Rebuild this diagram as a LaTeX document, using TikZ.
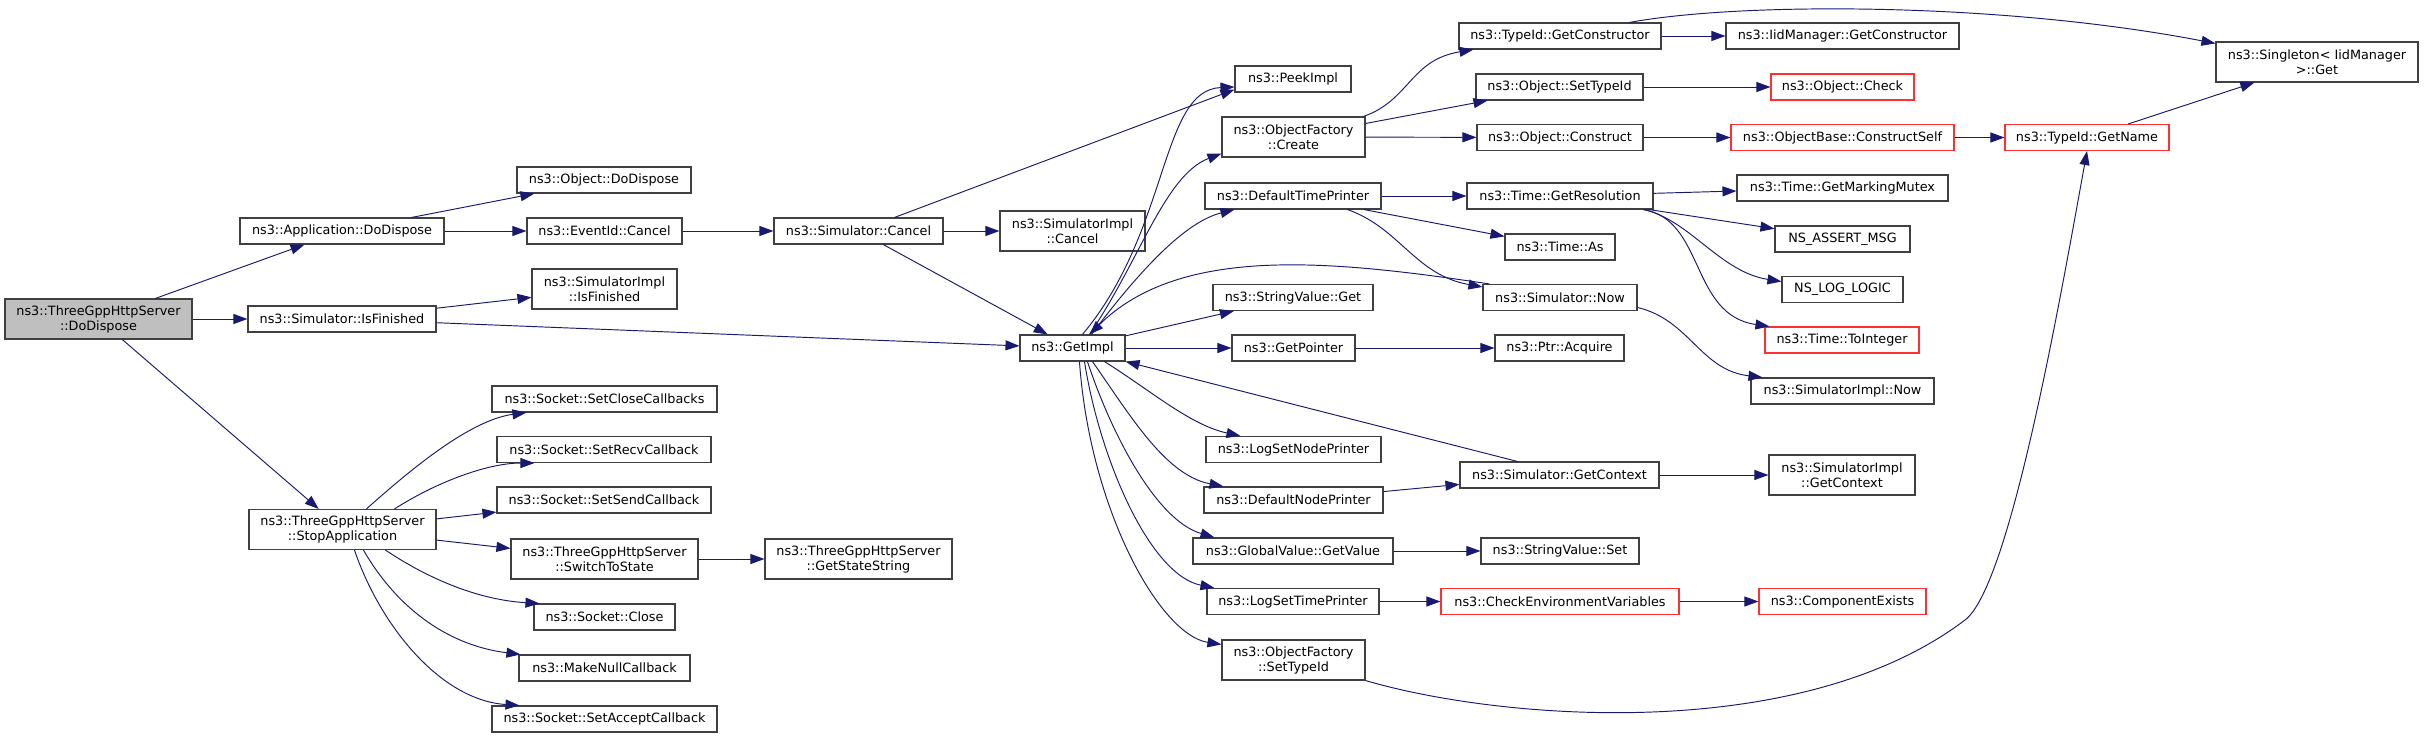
\documentclass[tikz,border=0pt]{standalone}
\usepackage{fontspec}
\setmainfont{DejaVu Sans}
\usetikzlibrary{arrows.meta}
\definecolor{edgeblue}{HTML}{191970}
\definecolor{boxgrey}{HTML}{404040}
\definecolor{rootfill}{HTML}{BFBFBF}
\definecolor{undocred}{HTML}{FF3030}

\begin{document}
\begin{tikzpicture}[x=1pt, y=1pt,
  fn/.style={draw=boxgrey, line width=1.1pt, fill=white, inner sep=0pt,
    minimum height=26, align=center, font=\fontsize{12.8}{15}\selectfont},
  tall/.style={minimum height=40},
  rootfn/.style={fn, tall, fill=rootfill},
  undoc/.style={draw=undocred},
  call/.style={draw=edgeblue, line width=0.95pt, -{Triangle[length=14pt, width=10pt]}}]
  \useasboundingbox (0,0) rectangle (2428,-738);

  % first levels
  \node[rootfn, minimum width=187] (root) at (98.5,-319) {ns3::ThreeGppHttpServer\\::DoDispose};
  \node[fn, minimum width=204] (appdisp) at (342,-231) {ns3::Application::DoDispose};
  \node[fn, minimum width=188] (simfin) at (342,-319) {ns3::Simulator::IsFinished};
  \node[fn, tall, minimum width=187] (stopapp) at (342.5,-529.5) {ns3::ThreeGppHttpServer\\::StopApplication};
  \node[fn, minimum width=174] (objdisp) at (604,-180) {ns3::Object::DoDispose};
  \node[fn, minimum width=155] (evcancel) at (604.5,-231) {ns3::EventId::Cancel};
  \node[fn, tall, minimum width=145] (simimplfin) at (604.5,-289) {ns3::SimulatorImpl\\::IsFinished};
  \node[fn, minimum width=225] (setclose) at (604.5,-399) {ns3::Socket::SetCloseCallbacks};
  \node[fn, minimum width=214] (setrecv) at (604,-449.5) {ns3::Socket::SetRecvCallback};
  \node[fn, minimum width=214] (setsend) at (604,-500) {ns3::Socket::SetSendCallback};
  \node[fn, tall, minimum width=187] (switchstate) at (604.5,-559) {ns3::ThreeGppHttpServer\\::SwitchToState};
  \node[fn, minimum width=141] (sockclose) at (604.5,-617) {ns3::Socket::Close};
  \node[fn, minimum width=171] (makenull) at (604.5,-668) {ns3::MakeNullCallback};
  \node[fn, minimum width=225] (setaccept) at (604.5,-719) {ns3::Socket::SetAcceptCallback};
  \node[fn, tall, minimum width=187] (getstatestr) at (858.5,-559) {ns3::ThreeGppHttpServer\\::GetStateString};
  \node[fn, minimum width=169] (simcancel) at (858.5,-231) {ns3::Simulator::Cancel};
  \node[fn, tall, minimum width=145] (simimplcancel) at (1072.5,-231) {ns3::SimulatorImpl\\::Cancel};
  \node[fn, minimum width=105] (getimpl) at (1072.5,-348) {ns3::GetImpl};

  % callees of GetImpl
  \node[fn, minimum width=116] (peekimpl) at (1293,-79) {ns3::PeekImpl};
  \node[fn, tall, minimum width=143] (ofcreate) at (1293.5,-137) {ns3::ObjectFactory\\::Create};
  \node[fn, minimum width=176] (deftimepr) at (1293,-196) {ns3::DefaultTimePrinter};
  \node[fn, minimum width=160] (strget) at (1293,-297.5) {ns3::StringValue::Get};
  \node[fn, minimum width=123] (getpointer) at (1293.5,-348) {ns3::GetPointer};
  \node[fn, minimum width=175] (logsetnode) at (1293.5,-449.5) {ns3::LogSetNodePrinter};
  \node[fn, minimum width=179] (defnodepr) at (1293.5,-500) {ns3::DefaultNodePrinter};
  \node[fn, minimum width=200] (gvgetvalue) at (1293,-551) {ns3::GlobalValue::GetValue};
  \node[fn, minimum width=172] (logsettime) at (1293,-601.5) {ns3::LogSetTimePrinter};
  \node[fn, tall, minimum width=143] (ofsettype) at (1293.5,-660) {ns3::ObjectFactory\\::SetTypeId};

  % next column
  \node[fn, minimum width=202] (tidgetctor) at (1560,-36) {ns3::TypeId::GetConstructor};
  \node[fn, minimum width=167] (objsettype) at (1559.5,-87) {ns3::Object::SetTypeId};
  \node[fn, minimum width=166] (objconstruct) at (1560,-137.5) {ns3::Object::Construct};
  \node[fn, minimum width=186] (timegetres) at (1560,-196) {ns3::Time::GetResolution};
  \node[fn, minimum width=110] (timeas) at (1560,-247) {ns3::Time::As};
  \node[fn, minimum width=154] (simnow) at (1560,-297.5) {ns3::Simulator::Now};
  \node[fn, minimum width=129] (ptracq) at (1559.5,-348) {ns3::Ptr::Acquire};
  \node[fn, minimum width=199] (simgetctx) at (1559.5,-475) {ns3::Simulator::GetContext};
  \node[fn, minimum width=158] (strset) at (1560,-551) {ns3::StringValue::Set};
  \node[fn, undoc, minimum width=238] (checkenv) at (1560,-601.5) {ns3::CheckEnvironmentVariables};

  % right columns
  \node[fn, minimum width=233] (iidgetctor) at (1842.5,-36) {ns3::IidManager::GetConstructor};
  \node[fn, undoc, minimum width=143] (objcheck) at (1842.5,-87) {ns3::Object::Check};
  \node[fn, undoc, minimum width=223] (constructself) at (1842.5,-137.5) {ns3::ObjectBase::ConstructSelf};
  \node[fn, minimum width=211] (getmutex) at (1842.5,-188) {ns3::Time::GetMarkingMutex};
  \node[fn, minimum width=135] (assertmsg) at (1842.5,-239) {NS\_ASSERT\_MSG};
  \node[fn, minimum width=121] (loglogic) at (1842.5,-289.5) {NS\_LOG\_LOGIC};
  \node[fn, undoc, minimum width=154] (tointeger) at (1842,-340) {ns3::Time::ToInteger};
  \node[fn, minimum width=183] (simimplnow) at (1842.5,-391) {ns3::SimulatorImpl::Now};
  \node[fn, tall, minimum width=146] (simimplctx) at (1842,-475) {ns3::SimulatorImpl\\::GetContext};
  \node[fn, undoc, minimum width=167] (compexists) at (1842.5,-601.5) {ns3::ComponentExists};
  \node[fn, undoc, minimum width=164] (getname) at (2087,-137.5) {ns3::TypeId::GetName};
  \node[fn, tall, minimum width=202] (singleton) at (2317,-62) {ns3::Singleton< IidManager\\>::Get};

  % straight calls
  \foreach \a/\b in {root/appdisp, root/simfin, root/stopapp, appdisp/objdisp,
      appdisp/evcancel, evcancel/simcancel, simcancel/simimplcancel, simcancel/getimpl,
      simfin/simimplfin, simfin/getimpl, getimpl/strget, getimpl/getpointer,
      ofcreate/objsettype, ofcreate/objconstruct, deftimepr/timegetres, deftimepr/timeas,
      getpointer/ptracq, defnodepr/simgetctx, gvgetvalue/strset, logsettime/checkenv,
      checkenv/compexists, simgetctx/simimplctx, tidgetctor/iidgetctor, objsettype/objcheck,
      objconstruct/constructself, constructself/getname, getname/singleton,
      timegetres/getmutex, timegetres/assertmsg, stopapp/setsend, stopapp/switchstate,
      switchstate/getstatestr}
    \draw[call] (\a) -- (\b);
  \draw[call] (simcancel) -- ([yshift=3]peekimpl.south west);
  \draw[call] ([xshift=58]simgetctx.north west) -- (getimpl.south east);

  % curved calls
  \draw[call] ([xshift=63]getimpl.north west) .. controls (1170,-230) and (1160,-90) .. ([yshift=-8]peekimpl.west);
  \draw[call] ([xshift=70]getimpl.north west) .. controls (1140,-260) and (1165,-175) .. ([yshift=4]ofcreate.south west);
  \draw[call] ([xshift=72]getimpl.north west) .. controls (1140,-270) and (1185,-222) .. ([xshift=30]deftimepr.south west);
  \draw[call] ([xshift=7]simnow.north west) .. controls (1330,-260) and (1180,-245) .. ([xshift=70]getimpl.north west);
  \draw[call] ([xshift=85]getimpl.south west) .. controls (1150,-390) and (1190,-425) .. ([xshift=35]logsetnode.north west);
  \draw[call] ([xshift=73]getimpl.south west) .. controls (1130,-415) and (1165,-475) .. ([xshift=20]defnodepr.north west);
  \draw[call] ([xshift=68]getimpl.south west) .. controls (1110,-430) and (1155,-520) .. ([xshift=22]gvgetvalue.north west);
  \draw[call] ([xshift=65]getimpl.south west) .. controls (1100,-460) and (1150,-575) .. ([xshift=8]logsettime.north west);
  \draw[call] ([xshift=60]getimpl.south west) .. controls (1090,-510) and (1160,-635) .. ([yshift=-5]ofsettype.north west);
  \draw[call] ([xshift=-2]ofcreate.north east) .. controls (1410,-100) and (1410,-60) .. ([xshift=15]tidgetctor.south west);
  \draw[call] ([xshift=143]deftimepr.south west) .. controls (1400,-228) and (1415,-275) .. ([yshift=-3]simnow.north west);
  \draw[call] ([yshift=-10]simnow.east) .. controls (1690,-320) and (1700,-370) .. ([xshift=12]simimplnow.north west);
  \draw[call] (ofsettype.south east) .. controls (1500,-720) and (1800,-745) .. (1965,-620)
    .. controls (2010,-586) and (2060,-300) .. (getname.south);
  \draw[call] ([xshift=171]tidgetctor.north west) .. controls (1740,-2) and (2000,-2) .. ([yshift=-2]singleton.north west);
  \draw[call] ([xshift=-10]timegetres.south east) .. controls (1690,-220) and (1720,-272) .. ([yshift=8]loglogic.west);
  \draw[call] ([xshift=-10]timegetres.south east) .. controls (1705,-220) and (1690,-315) .. ([xshift=5]tointeger.north west);
  \draw[call] ([xshift=118]stopapp.north west) .. controls (410,-470) and (470,-420) .. ([xshift=35]setclose.south west);
  \draw[call] ([xshift=146]stopapp.north west) .. controls (440,-480) and (490,-463) .. ([xshift=38]setrecv.south west);
  \draw[call] ([xshift=137]stopapp.south west) .. controls (430,-580) and (480,-600) .. ([xshift=6]sockclose.north west);
  \draw[call] ([xshift=115]stopapp.south west) .. controls (395,-605) and (445,-645) .. ([xshift=2]makenull.north west);
  \draw[call] ([xshift=106]stopapp.south west) .. controls (380,-625) and (440,-700) .. ([xshift=28]setaccept.north west);
\end{tikzpicture}
\end{document}
